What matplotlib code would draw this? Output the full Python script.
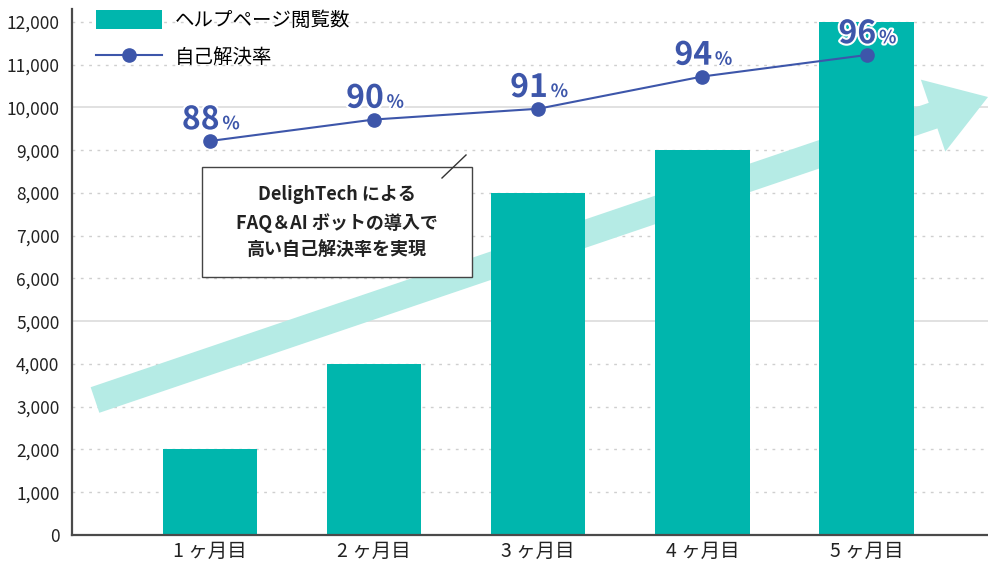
import matplotlib
matplotlib.use("Agg")
import matplotlib.pyplot as plt
import matplotlib.patheffects as pe
from matplotlib.patches import FancyArrow, Rectangle
from matplotlib.lines import Line2D

# 日本語フォント
plt.rcParams["font.family"] = ["Noto Sans CJK JP", "DejaVu Sans"]

# =========================
# データ
# =========================
months = ["1 ヶ月目", "2 ヶ月目", "3 ヶ月目", "4 ヶ月目", "5 ヶ月目"]
page_views = [2000, 4000, 8000, 9000, 12000]
self_solve_rate = [88, 90, 91, 94, 96]
y_ticks = [0, 1000, 2000, 3000, 4000, 5000, 6000, 7000, 8000, 9000, 10000, 11000, 12000]

bar_color = "#00b6ad"
line_color = "#3d56aa"
arrow_color = "#b5ebe5"
axis_color = "#4a4a4a"

fig = plt.figure(figsize=(9.88, 5.61), dpi=100)
ax = fig.add_axes([72 / 988, 26 / 561, 916 / 988, 526 / 561])

x = list(range(len(months)))

# 棒グラフ
bars = ax.bar(x, page_views, width=0.575, color=bar_color, zorder=2,
              label="ヘルプページ閲覧数")

ax.set_xlim(-0.84, 4.74)
ax.set_ylim(0, 12304)
ax.set_yticks(y_ticks)
ax.set_yticklabels([f"{v:,}" for v in y_ticks], fontsize=12.5, color="#222222")
ax.set_xticks(x)
ax.set_xticklabels(months, fontsize=14, color="#222222")
ax.tick_params(axis="both", length=0)
ax.tick_params(axis="y", pad=9)
ax.tick_params(axis="x", pad=4)

# 罫線
ax.set_axisbelow(True)
for v in y_ticks[1:]:
    if v % 5000 == 0:
        ax.axhline(v, color="#dcdcdc", lw=1.2, zorder=0.5)
    else:
        ax.axhline(v, color="#cfcfcf", lw=1.0, ls=(0, (2, 4)), zorder=0.5)

for s in ["top", "right"]:
    ax.spines[s].set_visible(False)
ax.spines["left"].set_color(axis_color)
ax.spines["left"].set_linewidth(1.6)
ax.spines["bottom"].set_color(axis_color)
ax.spines["bottom"].set_linewidth(1.6)

# 背景の矢印
arrow = FancyArrow(0.95, 1.61, 8.93, 3.03, width=0.27, head_width=0.76,
                   head_length=0.58, length_includes_head=True,
                   color=arrow_color, lw=0, transform=fig.dpi_scale_trans,
                   zorder=1, clip_on=False)
ax.add_patch(arrow)

# 折れ線（自己解決率）
ax2 = ax.twinx()
ax2.set_ylim(51.35, 100.28)
ax2.axis("off")
line, = ax2.plot(x, self_solve_rate, color=line_color, lw=1.5, marker="o",
                 markersize=9.5, zorder=3, label="自己解決率")

stroke = [pe.withStroke(linewidth=3, foreground="white")]
for xi, r in zip(x, self_solve_rate):
    ax2.annotate(str(r), (xi, r), xytext=(7, 8.5), textcoords="offset points",
                 ha="right", va="baseline", fontsize=23, fontweight="bold",
                 color=line_color, path_effects=stroke, zorder=4)
    ax2.annotate("%", (xi, r), xytext=(9, 8.5), textcoords="offset points",
                 ha="left", va="baseline", fontsize=13, fontweight="bold",
                 color=line_color, path_effects=stroke, zorder=4)

# 凡例
ax2.legend(handles=[bars, line], loc="upper left",
           bbox_to_anchor=(96 / 988, 1 - 10 / 561), bbox_transform=fig.transFigure,
           frameon=False, fontsize=14, handlelength=3.4, handleheight=1.1,
           handletextpad=0.65, labelspacing=0.8, borderpad=0, borderaxespad=0)

# 注釈ボックス
box = Rectangle((2.02, 5.61 - 2.77), 2.70, 1.10, transform=fig.dpi_scale_trans,
                facecolor="white", edgecolor="#444444", lw=1.0, zorder=5)
fig.patches.append(box)
fig.add_artist(Line2D([4.42, 4.66], [5.61 - 1.78, 5.61 - 1.55],
                      transform=fig.dpi_scale_trans, color="#333333", lw=1.0,
                      zorder=6))
fig.text(3.37 / 9.88, (5.61 - 2.225) / 5.61,
         "DelighTech による\nFAQ＆AI ボットの導入で\n高い自己解決率を実現",
         ha="center", va="center", fontsize=13, fontweight="bold",
         color="#222222", linespacing=1.55, zorder=6)

fig.savefig("out.png", dpi=100)
plt.close(fig)
